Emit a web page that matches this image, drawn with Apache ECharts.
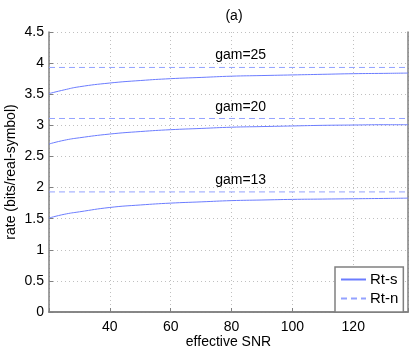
<!DOCTYPE html>
<html>
<head>
<meta charset="utf-8">
<script src="https://cdn.jsdelivr.net/npm/echarts@6/dist/echarts.min.js"></script>
<style>
  html, body { margin: 0; padding: 0; background: #fff; }
  #chart { width: 415px; height: 351px; }
</style>
</head>
<body>
<div id="chart"></div>
<script>
// effective SNR sample points
const snr = [20, 25, 30, 40, 50, 60, 70, 80, 90, 100, 110, 120, 130, 138];

// Rt-s curves (solid)
const rts25 = [3.51, 3.57, 3.62, 3.68, 3.72, 3.75, 3.77, 3.79, 3.80, 3.81, 3.82, 3.83, 3.835, 3.84];
const rts20 = [2.70, 2.76, 2.80, 2.86, 2.90, 2.93, 2.95, 2.97, 2.98, 2.99, 3.00, 3.005, 3.01, 3.01];
const rts13 = [1.51, 1.57, 1.61, 1.68, 1.72, 1.75, 1.77, 1.79, 1.80, 1.81, 1.815, 1.82, 1.825, 1.83];

// Rt-n levels (dashed)
const rtn = [3.93, 3.11, 1.93];
const gamLabels = ['gam=25', 'gam=20', 'gam=13'];
const labelSnr = 83;
const labelY = [4.13, 3.30, 2.12];

const font = '"Liberation Sans", Arial, sans-serif';
const solidColor = '#6b7cff';
const dashColor = '#93a2ff';

var myChart = echarts.init(document.getElementById('chart'));

const pairs = (ys) => snr.map((x, i) => [x, ys[i]]);
const flat = (v) => [[snr[0], v], [snr[snr.length - 1], v]];

const series = [];
[rts25, rts20, rts13].forEach((ys) => {
  series.push({
    name: 'Rt-s', type: 'line', data: pairs(ys), symbol: 'none', smooth: true,
    lineStyle: { color: solidColor, width: 1 }, itemStyle: { color: solidColor }
  });
});
rtn.forEach((v, i) => {
  series.push({
    name: 'Rt-n', type: 'line', data: flat(v), symbol: 'none',
    lineStyle: { color: dashColor, width: 1, type: [6, 4] }, itemStyle: { color: dashColor },
    markPoint: {
      symbol: 'circle', symbolSize: 0, silent: true,
      data: [{ coord: [labelSnr, labelY[i]] }],
      label: { show: true, formatter: gamLabels[i], color: '#000', fontSize: 14, fontFamily: font }
    }
  });
});

const axisLine = { show: true, lineStyle: { color: '#808080', width: 1.5 } };
const tick = { show: true, inside: true, length: 4, lineStyle: { color: '#808080' } };
const grid = { show: true, lineStyle: { color: '#c0c0c0', type: [1, 3] } };

myChart.setOption({
  animation: false,
  title: {
    text: '(a)', left: 229, top: 4, textAlign: 'center',
    textStyle: { fontSize: 14, fontWeight: 'normal', fontFamily: font, color: '#000' }
  },
  grid: { left: 49, right: 7, top: 32, bottom: 39, outerBoundsMode: 'none', containLabel: false },
  legend: {
    data: ['Rt-s', 'Rt-n'], orient: 'vertical', left: 335, top: 267,
    backgroundColor: '#fff', borderColor: '#808080', borderWidth: 1.5,
    padding: [5, 5, 6, 5], itemGap: 4, itemWidth: 25, itemHeight: 14,
    itemStyle: { opacity: 0 },
    textStyle: { fontSize: 15, fontFamily: font, color: '#000', padding: [2, 0, 0, -1] }
  },
  xAxis: [{
    type: 'value', min: 20, max: 138, interval: 20,
    name: 'effective SNR', nameLocation: 'middle', nameGap: 23, nameMoveOverlap: false,
    nameTextStyle: { fontSize: 14, fontFamily: font, color: '#000' },
    axisLine, axisTick: tick,
    axisLabel: {
      fontSize: 14, fontFamily: font, color: '#000', margin: 8,
      formatter: (v) => (v === 20 || v === 138 ? '' : v)
    },
    splitLine: grid
  }, {
    type: 'value', min: 20, max: 138, position: 'top',
    axisLine, axisTick: { show: false }, axisLabel: { show: false }, splitLine: { show: false }
  }],
  yAxis: [{
    type: 'value', min: 0, max: 4.5, interval: 0.5,
    name: 'rate (bits/real-symbol)', nameLocation: 'middle', nameGap: 31, nameMoveOverlap: false,
    nameTextStyle: { fontSize: 14, fontFamily: font, color: '#000' },
    axisLine, axisTick: tick,
    axisLabel: { fontSize: 14, fontFamily: font, color: '#000', margin: 5 },
    splitLine: grid
  }, {
    type: 'value', min: 0, max: 4.5, position: 'right',
    axisLine, axisTick: { show: false }, axisLabel: { show: false }, splitLine: { show: false }
  }],
  series
});
</script>
</body>
</html>
